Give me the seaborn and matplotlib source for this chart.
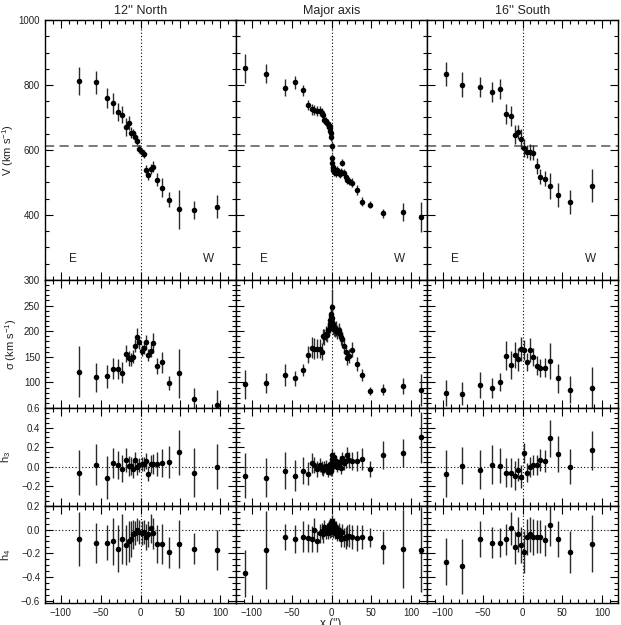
import matplotlib
matplotlib.use("Agg")
import matplotlib.pyplot as plt
import seaborn as sns
import numpy as np
import pandas as pd
from matplotlib.ticker import MultipleLocator

# ---------------- data ----------------
titles = ["12'' North", "Major axis", "16'' South"]

x_north = [-77.9, -56.1, -42.7, -34.3, -28.5, -23.5, -18.8, -14.7, -11.7, -8.8, -6.3, -4.2, -1.3,
           1.3, 3.8, 6.7, 9.2, 12.6, 16.3, 20.9, 27.2, 35.2, 48.2, 67.4, 96.7]
v_north = [813, 808, 760, 744, 716, 709, 670, 682, 653, 651, 639, 629, 603,
           593, 587, 539, 523, 542, 548, 508, 484, 447, 417, 415, 426]
v_north_err = [43, 35, 31, 32, 28, 27, 28, 22, 17, 15, 15, 15, 12,
               12, 12, 15, 15, 16, 17, 20, 30, 23, 60, 28, 35]
sig_north = [121, 110, 112, 127, 126, 119, 156, 147, 145, 150, 172, 188, 178,
             162, 168, 179, 154, 162, 177, 132, 139, 99, 118, 68, 55]
sig_north_err = [50, 28, 22, 20, 20, 20, 17, 14, 13, 13, 12, 18, 12,
                 11, 12, 13, 12, 13, 19, 15, 21, 13, 48, 22, 30]
h3_north = [-0.06, 0.02, -0.11, 0.04, 0.02, -0.02, 0.07, 0.01, 0.01, -0.02, 0.07, 0.0, 0.02,
            0.03, 0.03, 0.06, -0.07, 0.03, 0.03, 0.03, 0.04, 0.05, 0.15, -0.06, 0.0]
h3_north_err = [0.23, 0.21, 0.22, 0.15, 0.14, 0.14, 0.12, 0.1, 0.09, 0.09, 0.08, 0.08, 0.07,
                0.07, 0.07, 0.08, 0.08, 0.09, 0.1, 0.12, 0.14, 0.16, 0.23, 0.25, 0.23]
h4_north = [-0.08, -0.11, -0.11, -0.10, -0.16, -0.08, -0.13, -0.10, -0.08, -0.04, -0.03, 0.0, -0.02,
            -0.03, -0.02, -0.06, -0.04, 0.01, -0.03, -0.12, -0.12, -0.19, -0.12, -0.16, -0.17]
h4_north_err = [0.23, 0.17, 0.15, 0.2, 0.2, 0.21, 0.17, 0.17, 0.15, 0.12, 0.1, 0.1, 0.1,
                0.1, 0.1, 0.11, 0.11, 0.12, 0.13, 0.16, 0.17, 0.13, 0.2, 0.13, 0.17]

x_major = [-108.5, -82.5, -59, -45.6, -36.4, -29.7, -24.7, -21.4, -18, -14.7, -12.1, -10.5, -8.8,
           -7.1, -5.9, -4.6, -3.4, -2.5, -1.7, -1.3, -0.8, -0.4, 0.0, 0.4, 0.8, 1.3, 1.7, 2.5,
           3.4, 4.2, 5.4, 7.1, 8.8, 10.5, 12.1, 13.8, 15.5, 18, 19.7, 22.2, 25.5, 31.8, 38.1,
           48.6, 64.5, 89.6, 113]
v_major = [851, 835, 791, 808, 784, 738, 725, 722, 720, 719, 715, 708, 692,
           690, 682, 680, 672, 674, 667, 659, 651, 640, 613, 575, 559, 549, 538, 544,
           533, 536, 530, 538, 530, 526, 533, 561, 530, 518, 508, 505, 499, 477, 441,
           432, 405, 409, 394]
v_major_err = [44, 30, 26, 20, 17, 16, 16, 15, 15, 15, 14, 14, 13,
               13, 13, 12, 12, 12, 12, 12, 12, 12, 15, 12, 12, 12, 12, 12,
               12, 12, 12, 12, 12, 12, 12, 10, 12, 12, 13, 13, 14, 15, 14,
               10, 14, 28, 45]
sig_major = [96, 99, 114, 108, 124, 154, 168, 166, 166, 166, 160, 190, 189,
             195, 192, 203, 205, 210, 215, 221, 230, 234, 247, 225, 218, 215, 210, 208,
             204, 202, 205, 199, 202, 195, 188, 185, 172, 159, 148, 151, 164, 136, 115,
             83, 86, 93, 85]
sig_major_err = [29, 20, 21, 15, 12, 17, 20, 20, 18, 18, 16, 15, 15,
                 15, 14, 14, 14, 14, 15, 15, 18, 20, 35, 18, 16, 15, 15, 14,
                 14, 14, 14, 14, 14, 14, 14, 14, 14, 14, 14, 14, 14, 13, 12,
                 8, 10, 15, 31]
h3_major = [-0.09, -0.11, -0.04, -0.09, -0.04, -0.07, 0.04, 0.02, -0.02, 0.02, -0.01, -0.03, 0.0,
            0.01, -0.02, -0.05, 0.0, -0.03, -0.01, 0.03, -0.04, 0.02, 0.0, 0.12, 0.08, 0.03, 0.05, 0.01,
            0.10, 0.04, 0.06, 0.0, 0.03, 0.05, -0.01, 0.09, 0.04, 0.06, 0.12, 0.07, 0.06, 0.06, 0.08,
            -0.02, 0.12, 0.14, 0.30]
h3_major_err = [0.23, 0.2, 0.19, 0.16, 0.14, 0.12, 0.1, 0.08, 0.08, 0.07, 0.07, 0.06, 0.06,
                0.06, 0.05, 0.05, 0.05, 0.05, 0.05, 0.05, 0.05, 0.06, 0.08, 0.06, 0.05, 0.05, 0.05, 0.05,
                0.05, 0.05, 0.05, 0.05, 0.05, 0.06, 0.06, 0.06, 0.07, 0.07, 0.08, 0.08, 0.09, 0.1, 0.11,
                0.08, 0.14, 0.14, 0.26]
h4_major = [-0.37, -0.17, -0.06, -0.08, -0.06, -0.07, -0.08, 0.0, -0.1, -0.03, -0.01, -0.04, 0.02,
            -0.02, 0.01, -0.03, 0.03, 0.0, 0.05, -0.02, 0.02, -0.01, 0.04, 0.07, 0.03, -0.02, 0.02, 0.0,
            0.05, -0.03, 0.02, -0.05, 0.0, -0.04, -0.08, -0.02, -0.07, -0.07, -0.05, -0.05, -0.06, -0.07, -0.06,
            -0.07, -0.15, -0.16, -0.17]
h4_major_err = [0.2, 0.33, 0.11, 0.12, 0.13, 0.12, 0.11, 0.1, 0.09, 0.08, 0.07, 0.07, 0.06,
                0.06, 0.05, 0.05, 0.05, 0.05, 0.05, 0.05, 0.05, 0.05, 0.06, 0.05, 0.05, 0.05, 0.05, 0.05,
                0.05, 0.05, 0.05, 0.05, 0.06, 0.06, 0.07, 0.07, 0.08, 0.09, 0.09, 0.1, 0.1, 0.11, 0.1,
                0.08, 0.14, 0.33, 0.36]

x_south = [-96.3, -75.4, -53.6, -37.7, -28.1, -20.9, -14.7, -10, -5.9, -2.1, 1.3, 5.9, 9.2,
           12.6, 17.6, 22.6, 28.1, 34.8, 44.4, 60.3, 87.1]
v_south = [834, 801, 793, 779, 787, 712, 704, 647, 655, 634, 607, 595, 594,
           592, 550, 518, 512, 490, 461, 440, 490]
v_south_err = [38, 38, 31, 30, 30, 31, 30, 29, 21, 31, 28, 20, 25,
               22, 25, 22, 23, 40, 36, 37, 51]
sig_south = [79, 78, 95, 89, 101, 152, 134, 154, 145, 165, 163, 140, 163,
             150, 133, 128, 129, 142, 108, 86, 90]
sig_south_err = [26, 22, 26, 19, 17, 28, 28, 25, 22, 23, 20, 18, 23,
                 18, 18, 18, 18, 35, 28, 26, 41]
h3_south = [-0.07, 0.01, -0.03, 0.02, 0.01, -0.06, -0.06, -0.09, -0.03, -0.1, 0.14, -0.06, 0.0,
            0.02, 0.02, 0.07, 0.06, 0.29, 0.13, 0.0, 0.17]
h3_south_err = [0.24, 0.19, 0.2, 0.2, 0.18, 0.15, 0.15, 0.15, 0.12, 0.12, 0.1, 0.1, 0.1,
                0.1, 0.1, 0.11, 0.11, 0.19, 0.18, 0.18, 0.2]
h4_south = [-0.27, -0.31, -0.08, -0.11, -0.11, -0.08, 0.01, -0.15, -0.04, -0.13, -0.19, -0.06, -0.04,
            -0.06, -0.06, -0.06, -0.09, 0.04, -0.08, -0.19, -0.12]
h4_south_err = [0.2, 0.23, 0.15, 0.13, 0.12, 0.13, 0.14, 0.14, 0.15, 0.15, 0.18, 0.15, 0.15,
                0.15, 0.14, 0.14, 0.13, 0.18, 0.15, 0.18, 0.24]

v_sys = 613
row_names = ["V (km s$^{-1}$)", "σ (km s$^{-1}$)", "h$_3$", "h$_4$"]

columns = [
    (x_north, [(v_north, v_north_err), (sig_north, sig_north_err), (h3_north, h3_north_err), (h4_north, h4_north_err)]),
    (x_major, [(v_major, v_major_err), (sig_major, sig_major_err), (h3_major, h3_major_err), (h4_major, h4_major_err)]),
    (x_south, [(v_south, v_south_err), (sig_south, sig_south_err), (h3_south, h3_south_err), (h4_south, h4_south_err)]),
]

# ---------------- style ----------------
sns.set_style("ticks")
plt.rcParams['font.family'] = ['Liberation Sans', 'DejaVu Sans']
plt.rcParams['mathtext.fontset'] = 'custom'
plt.rcParams['mathtext.rm'] = 'Liberation Sans'
plt.rcParams['mathtext.it'] = 'Liberation Sans:italic'

W, H = 621, 625
fig = plt.figure(figsize=(W / 100, H / 100), dpi=100)

col_left = [45, 236, 427]
col_w = 191
row_top = [20, 280, 408, 506]
row_bot = [280, 408, 506, 603]

ylims = [(200, 1000), (50, 300), (-0.4, 0.6), (-0.62, 0.2)]
yticks = [[200, 400, 600, 800, 1000], [50, 100, 150, 200, 250, 300],
          [-0.4, -0.2, 0.0, 0.2, 0.4, 0.6], [-0.6, -0.4, -0.2, 0.0, 0.2]]
yticklabels = [['', '400', '600', '800', '1000'], ['', '100', '150', '200', '250', '300'],
               ['', '−0.2', '0.0', '0.2', '0.4', '0.6'], ['−0.6', '−0.4', '−0.2', '0.0', '0.2']]
yminor = [50, 10, 0.05, 0.05]
ylabel_x = [-0.152, -0.135, -0.165, -0.165]
xticks = [-100, -50, 0, 50, 100]
xticklabels = ['−100', '−50', '0', '50', '100']

txt_color = '#222222'
for c, (xs, rows) in enumerate(columns):
    for r, (vals, errs) in enumerate(rows):
        ax = fig.add_axes([col_left[c] / W, 1 - row_bot[r] / H, col_w / W, (row_bot[r] - row_top[r]) / H])
        df = pd.DataFrame({'x': xs, 'y': vals, 'e': errs})
        ax.errorbar(df['x'], df['y'], yerr=df['e'], fmt='none', ecolor='#2a2a2a', elinewidth=1.0,
                    capsize=0, zorder=2)
        sns.scatterplot(data=df, x='x', y='y', ax=ax, color='black', s=16, edgecolor='black',
                        linewidth=0, zorder=3, legend=False)
        ax.axvline(0, color='black', linestyle=(0, (1, 2)), linewidth=0.8, zorder=1)
        if r == 0:
            ax.axhline(v_sys, color='#555555', linestyle=(0, (6, 3.5)), linewidth=1.1, zorder=1)
            ax.text(-85, 265, 'E', ha='center', va='center', fontsize=8.5, color=txt_color)
            ax.text(85, 265, 'W', ha='center', va='center', fontsize=8.5, color=txt_color)
            ax.set_title(titles[c], fontsize=9, color=txt_color, pad=4)
        if r >= 2:
            ax.axhline(0, color='black', linestyle=(0, (1, 2)), linewidth=0.8, zorder=1)
        ax.set_xlim(-120, 120)
        ax.set_ylim(*ylims[r])
        ax.set_xticks(xticks)
        ax.set_xticklabels(xticklabels)
        ax.set_yticks(yticks[r])
        ax.set_yticklabels(yticklabels[r])
        ax.xaxis.set_minor_locator(MultipleLocator(10))
        ax.yaxis.set_minor_locator(MultipleLocator(yminor[r]))
        ax.tick_params(which='both', direction='in', top=True, right=True, colors='black',
                       labelcolor=txt_color, labelsize=7, width=0.8)
        ax.tick_params(which='major', length=5.5)
        ax.tick_params(which='minor', length=2.8)
        ax.tick_params(axis='y', pad=3.5)
        ax.tick_params(axis='x', pad=3.5)
        ax.tick_params(labelleft=(c == 0), labelbottom=(r == 3))
        ax.set_xlabel('')
        ax.set_ylabel('')
        for sp in ax.spines.values():
            sp.set_visible(True)
            sp.set_linewidth(1.0)
            sp.set_color('black')
        if c == 0:
            ax.set_ylabel(row_names[r], fontsize=8, color=txt_color)
            ax.yaxis.set_label_coords(ylabel_x[r], 0.5)

fig.text(331 / W, 1 - 618.5 / H, "x ('')", ha='center', va='top', fontsize=8.5, color=txt_color)

fig.savefig('out.png', dpi=100)
